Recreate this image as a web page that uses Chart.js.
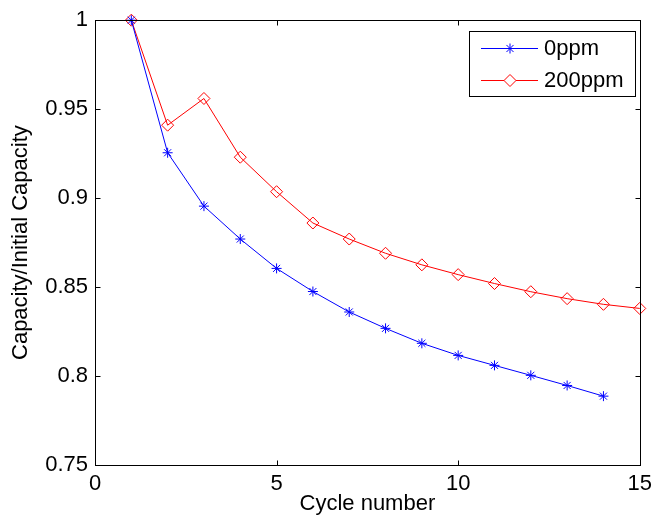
<!DOCTYPE html>
<html>
<head>
<meta charset="utf-8">
<script src="https://cdn.jsdelivr.net/npm/chart.js@4/dist/chart.umd.min.js"></script>
<style>
  body { margin: 0; background: #fff; }
  #wrap { width: 658px; height: 525px; }
</style>
</head>
<body>
<div id="wrap"><canvas id="capChart" width="658" height="525"></canvas></div>
<script>
// data
const cycles = [1, 2, 3, 4, 5, 6, 7, 8, 9, 10, 11, 12, 13, 14, 15];
const cap0ppm = [1.0, 0.9255, 0.8955, 0.877, 0.8605, 0.8475, 0.836, 0.8268, 0.8184, 0.8116, 0.806, 0.8004, 0.7947, 0.7887];
const cap200ppm = [1.0, 0.941, 0.956, 0.923, 0.9036, 0.886, 0.877, 0.869, 0.8625, 0.857, 0.852, 0.8474, 0.8435, 0.8403, 0.838];
const seriesNames = ['0ppm', '200ppm'];

const xTicks = [0, 5, 10, 15];
const yTicks = [0.75, 0.8, 0.85, 0.9, 0.95, 1];
const yTickLabels = ['0.75', '0.8', '0.85', '0.9', '0.95', '1'];

const toPoints = (vals) => vals.map((v, i) => ({ x: cycles[i], y: v }));

Chart.defaults.font.family = "'Liberation Sans', Arial, sans-serif";
Chart.defaults.font.size = 22;
Chart.defaults.color = '#000';

// draws a marker like the dataset's one (legend only)
function drawMarker(ctx, style, x, y, r, color) {
    ctx.save();
    ctx.strokeStyle = color;
    ctx.lineWidth = 1;
    ctx.beginPath();
    if (style === 'star') {
        ctx.moveTo(x - r, y); ctx.lineTo(x + r, y);
        ctx.moveTo(x, y - r); ctx.lineTo(x, y + r);
        const d = r * Math.SQRT1_2;
        ctx.moveTo(x - d, y - d); ctx.lineTo(x + d, y + d);
        ctx.moveTo(x - d, y + d); ctx.lineTo(x + d, y - d);
    } else {
        ctx.moveTo(x, y - r); ctx.lineTo(x + r, y);
        ctx.lineTo(x, y + r); ctx.lineTo(x - r, y);
        ctx.closePath();
        ctx.fillStyle = '#fff';
        ctx.fill();
    }
    ctx.stroke();
    ctx.restore();
}

// matlab-ish box with inward ticks + boxed legend
const boxPlugin = {
    id: 'boxPlugin',
    afterDraw(chart) {
        const ctx = chart.ctx;
        const a = chart.chartArea;
        const xs = chart.scales.x, ys = chart.scales.y;
        const L = Math.round(a.left) + 0.5, R = Math.round(a.right) + 0.5;
        const T = Math.round(a.top) + 0.5, B = Math.round(a.bottom) + 0.5;
        ctx.save();
        ctx.strokeStyle = '#000';
        ctx.lineWidth = 1;
        ctx.strokeRect(L, T, R - L, B - T);
        const tl = 5;
        ctx.beginPath();
        xTicks.forEach(v => {
            const px = Math.round(xs.getPixelForValue(v)) + 0.5;
            ctx.moveTo(px, B); ctx.lineTo(px, B - tl);
            ctx.moveTo(px, T); ctx.lineTo(px, T + tl);
        });
        yTicks.forEach(v => {
            const py = Math.round(ys.getPixelForValue(v)) + 0.5;
            ctx.moveTo(L, py); ctx.lineTo(L + tl, py);
            ctx.moveTo(R, py); ctx.lineTo(R - tl, py);
        });
        ctx.stroke();

        // legend
        const lx = 469.5, ly = 31.5, lw = 166, lh = 65;
        ctx.fillStyle = '#fff';
        ctx.fillRect(lx, ly, lw, lh);
        ctx.strokeRect(lx, ly, lw, lh);
        const rows = [48, 80];
        chart.data.datasets.forEach((ds, i) => {
            const y = rows[i];
            ctx.beginPath();
            ctx.strokeStyle = ds.borderColor;
            ctx.moveTo(481, y + 0.5); ctx.lineTo(538, y + 0.5);
            ctx.stroke();
            drawMarker(ctx, ds.pointStyle, 510, y + 0.5, ds.pointRadius, ds.borderColor);
            ctx.fillStyle = '#000';
            ctx.font = "22px 'Liberation Sans', Arial, sans-serif";
            ctx.textBaseline = 'middle';
            ctx.textAlign = 'left';
            ctx.fillText(ds.label, 544, y + 1);
        });
        ctx.restore();
    }
};

new Chart(document.getElementById('capChart'), {
    type: 'line',
    data: {
        datasets: [
            {
                label: seriesNames[0],
                data: toPoints(cap0ppm),
                borderColor: '#0000ff',
                backgroundColor: '#0000ff',
                borderWidth: 1,
                pointStyle: 'star',
                pointRadius: 5,
                pointBorderWidth: 1,
                tension: 0,
                clip: false
            },
            {
                label: seriesNames[1],
                data: toPoints(cap200ppm),
                borderColor: '#ff0000',
                backgroundColor: 'rgba(0,0,0,0)',
                borderWidth: 1,
                pointStyle: 'rectRot',
                pointRadius: 6,
                pointBorderWidth: 1,
                tension: 0,
                clip: false
            }
        ]
    },
    options: {
        responsive: false,
        animation: false,
        layout: { padding: { top: 20, right: 14, left: 0, bottom: 0 } },
        plugins: {
            legend: { display: false },
            tooltip: { enabled: false }
        },
        scales: {
            x: {
                type: 'linear',
                min: 0,
                max: 15,
                grid: { display: false, drawTicks: false },
                border: { display: false },
                afterBuildTicks: (s) => { s.ticks = xTicks.map(v => ({ value: v })); },
                afterFit: (s) => { s.height = 60; },
                ticks: { padding: 6, color: '#000', maxRotation: 0 },
                title: { display: true, text: 'Cycle number', color: '#000', padding: { top: 0, bottom: 8 } }
            },
            y: {
                type: 'linear',
                min: 0.75,
                max: 1,
                grid: { display: false, drawTicks: false },
                border: { display: false },
                afterBuildTicks: (s) => { s.ticks = yTicks.map(v => ({ value: v })); },
                afterFit: (s) => { s.width = 95; },
                ticks: {
                    padding: 7,
                    color: '#000',
                    callback: (v) => yTickLabels[yTicks.indexOf(v)]
                },
                title: { display: true, text: 'Capacity/Initial Capacity', color: '#000', padding: { top: 8, bottom: 0 } }
            }
        }
    },
    plugins: [boxPlugin]
});
</script>
</body>
</html>
